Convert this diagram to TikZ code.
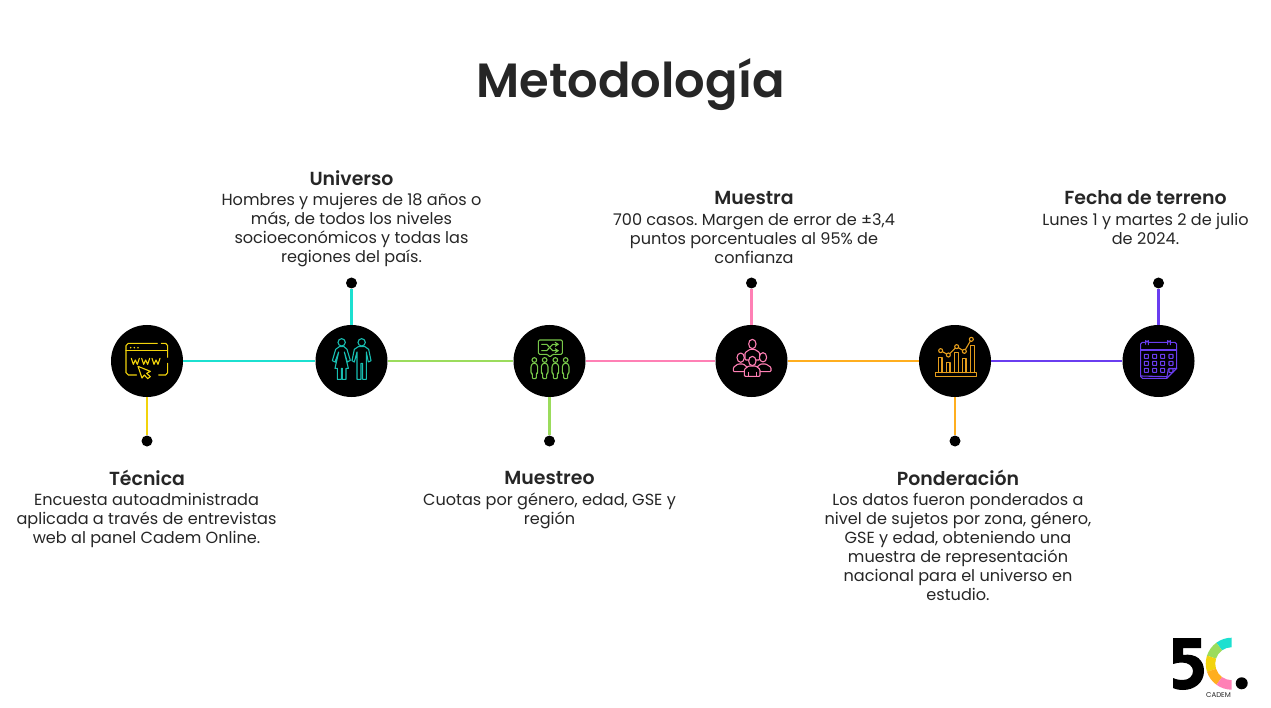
\documentclass[tikz,border=0pt]{standalone}
\usepackage{fontspec}
\setmainfont{Poppins}
\newfontfamily\headfont{Poppins SemiBold}
\usetikzlibrary{arrows.meta}
\definecolor{ink}{HTML}{262626}
\definecolor{cyel}{HTML}{F2D30C}
\definecolor{ctur}{HTML}{1CE0D0}
\definecolor{cgrn}{HTML}{9BDC5C}
\definecolor{cicg}{HTML}{78C84A}
\definecolor{cpnk}{HTML}{FF80B5}
\definecolor{corg}{HTML}{FFAE1F}
\definecolor{cpur}{HTML}{6A3DF0}
\tikzset{
  hub/.style={circle,fill=black,minimum size=72pt,inner sep=0pt},
  tip/.style={circle,fill=black,minimum size=11pt,inner sep=0pt},
  link/.style={line width=2.3pt},
  headtext/.style={font=\headfont\fontsize{18.9}{21}\selectfont,text=ink,inner sep=0pt,anchor=center},
  bodytext/.style={font=\fontsize{16.1}{19}\selectfont\frenchspacing,text=ink,inner sep=0pt,align=center,anchor=north},
  iconline/.style={line width=1.1pt,line join=round,line cap=round},
}
\begin{document}
\begin{tikzpicture}[x=1pt,y=-1pt]
\useasboundingbox (0,0) rectangle (1271,708);
\fill[white] (0,0) rectangle (1271,708);
\node[font=\headfont\fontsize{48}{58}\selectfont,text=ink,inner sep=0pt] (title) at (630.5,85) {Metodología};
% hubs and tips
\coordinate (h1) at (147,361);\coordinate (h2) at (351.5,361);\coordinate (h3) at (549.5,361);
\coordinate (h4) at (751.5,361);\coordinate (h5) at (955,361);\coordinate (h6) at (1158.5,361);
\node[tip] (d1) at (147,441) {};
\node[tip] (d2) at (351.5,283) {};
\node[tip] (d3) at (549.5,441) {};
\node[tip] (d4) at (751.5,283) {};
\node[tip] (d5) at (955,441) {};
\node[tip] (d6) at (1158.5,283) {};
\node[hub] (c1) at (h1) {};
\node[hub] (c2) at (h2) {};
\node[hub] (c3) at (h3) {};
\node[hub] (c4) at (h4) {};
\node[hub] (c5) at (h5) {};
\node[hub] (c6) at (h6) {};
\draw[link,cyel] (c1) -- (d1);
\draw[link,ctur] (c1) -- (c2);
\draw[link,ctur] (c2) -- (d2);
\draw[link,cgrn] (c2) -- (c3);
\draw[link,cgrn] (c3) -- (d3);
\draw[link,cpnk] (c3) -- (c4);
\draw[link,cpnk] (c4) -- (d4);
\draw[link,corg] (c4) -- (c5);
\draw[link,corg] (c5) -- (d5);
\draw[link,cpur] (c5) -- (c6);
\draw[link,cpur] (c6) -- (d6);
% icons 1 and 2
\begin{scope}[shift={(100,310)},scale=1/3,iconline]
 \begin{scope}[draw=cyel,cyel]
  \draw (110,195) -- (85,195) -- (78,188) -- (78,107) -- (85,100) -- (172,100);
  \draw (184,100) -- (197,100) -- (203,107) -- (203,142);
  \draw (203,160) -- (203,188) -- (197,195) -- (176,195);
  \draw (78,122) -- (203,122);
  \fill (92,113) circle (2.6) (103,113) circle (2.6) (114,113) circle (2.6);
  \draw (94,145) -- (100,163) -- (106,150) -- (112,163) -- (118,145);
  \draw (125,145) -- (131,163) -- (137,150) -- (143,163) -- (149,145);
  \draw (156,145) -- (162,163) -- (168,150) -- (174,163) -- (180,145) ;
  \draw (114,169) -- (151,184) -- (140,190) -- (151,200) -- (143,206) -- (133,195) -- (126,204) -- cycle;
 \end{scope}
 \begin{scope}[draw=ctur!85!black]
  \draw (725,97) circle (11) (785,97) circle (11);
  \draw (718,110) -- (707,118) -- (697,152) -- (705,156) -- (716,126) -- (705,175) -- (712,175) -- (712,208) -- (724,208) -- (724,175) -- (727,175) -- (727,208) -- (738,208) -- (738,175) -- (745,175) -- (733,126) -- (742,156) -- (751,151) -- (741,118) -- (732,110) -- cycle;
  \draw (775,110) -- (763,118) -- (756,152) -- (763,156) -- (771,126) -- (771,208) -- (783,208) -- (783,160) -- (788,160) -- (788,208) -- (799,208) -- (799,126) -- (805,156) -- (813,152) -- (806,118) -- (795,110) -- cycle;
 \end{scope}
\end{scope}
% icons 3 and 4
\begin{scope}[shift={(500,310)},scale=1/3,iconline]
 \begin{scope}[draw=cicg]
  \draw[rounded corners=1.3pt] (115,90) -- (187,90) -- (187,133) -- (157,133) -- (150,142) -- (143,133) -- (115,133) -- cycle;
  \draw[-{Straight Barb[length=3pt,width=4pt]}] (125,103) -- (140,103) -- (158,122) -- (177,122);
  \draw[-{Straight Barb[length=3pt,width=4pt]}] (125,122) -- (140,122) -- (158,103) -- (177,103);
  \foreach \px in {103,134,166,197}{
   \draw (\px,150) circle (7);
   \draw[rounded corners=1pt] (\px-5,160) -- (\px-10,168) -- (\px-10,190) -- (\px-6,190) -- (\px-6,206) -- (\px+6,206) -- (\px+6,190) -- (\px+10,190) -- (\px+10,168) -- (\px+5,160) -- cycle;
  }
 \end{scope}
 \begin{scope}[draw=cpnk,fill=black]
  \filldraw (757,102) ellipse (11 and 14);
  \filldraw[rounded corners=1pt] (735,150) -- (735,128) -- (750,118) -- (764,118) -- (779,128) -- (779,150) -- cycle;
  \filldraw (722,143) ellipse (11 and 14);
  \filldraw (789,142) ellipse (11 and 14);
  \filldraw[rounded corners=1pt] (700,185) -- (700,172) -- (714,162) -- (730,162) -- (742,172) -- (742,185) -- cycle;
  \filldraw[rounded corners=1pt] (813,185) -- (813,172) -- (798,162) -- (782,162) -- (770,172) -- (770,185) -- cycle;
  \filldraw[rounded corners=1pt] (733,199) -- (733,178) -- (746,168) -- (768,168) -- (780,178) -- (780,199) -- cycle;
  \filldraw (757,153) ellipse (11 and 14);
  \draw (745,187) -- (745,199) (769,187) -- (769,199);
 \end{scope}
\end{scope}
% icons 5 and 6
\begin{scope}[shift={(910,310)},scale=1/3,iconline]
 \begin{scope}[draw=corg!90!black]
  \draw (77,188) rectangle (200,200);
  \draw (85,188) -- (85,142) -- (96,142) -- (96,188);
  \draw (109,188) -- (109,158) -- (120,158) -- (120,188);
  \draw (133,188) -- (133,127) -- (145,127) -- (145,188);
  \draw (157,188) -- (157,146) -- (168,146) -- (168,188);
  \draw (181,188) -- (181,106) -- (193,106) -- (193,188);
  \draw (92,122) -- (115,135) -- (140,110) -- (163,124) -- (184,88);
  \foreach \qx/\qy in {92/122,115/135,140/110,163/124,184/88}{\filldraw[fill=black] (\qx,\qy) circle (6);}
 \end{scope}
 \begin{scope}[draw=cpur]
  \draw[rounded corners=1.7pt] (770,205) -- (692,205) -- (692,97) -- (800,97) -- (800,175);
  \draw (692,120) -- (800,120);
  \draw (800,175) -- (770,205);
  \draw (775,177) -- (800,175) (775,177) -- (770,205);
  \draw (692,198) -- (770,200);
  \draw[fill=black] (707,103) -- (707,92) arc (180:0:4) -- (715,104);
  \draw[fill=black] (773,103) -- (773,92) arc (180:0:4) -- (781,104);
  \foreach \gx in {703,728,752,777}{
   \foreach \gy in {133,154,175}{
    \draw[rounded corners=0.4pt] (\gx,\gy) rectangle +(12,12);
   }
  }
 \end{scope}
\end{scope}
% texts
\node[headtext] (t1) at (147,478) {Técnica};
\node[bodytext] (b1) at (146.5,493) {Encuesta autoadministrada\\aplicada a través de entrevistas\\web al panel Cadem Online.};
\node[headtext] (t2) at (351.5,178) {Universo};
\node[bodytext] (b2) at (351.5,193) {Hombres y mujeres de 18 años o\\más, de todos los niveles\\socioeconómicos y todas las\\regiones del país.};
\node[headtext] (t3) at (549.5,478) {Muestreo};
\node[bodytext] (b3) at (549.5,493) {Cuotas por género, edad, GSE y\\región};
\node[headtext] (t4) at (754,198) {Muestra};
\node[bodytext] (b4) at (754,213) {700 casos. Margen de error de ±3,4\\puntos porcentuales al 95\% de\\confianza};
\node[headtext] (t5) at (958,478) {Ponderación};
\node[bodytext] (b5) at (958,493) {Los datos fueron ponderados a\\nivel de sujetos por zona, género,\\GSE y edad, obteniendo una\\muestra de representación\\nacional para el universo en\\estudio.};
\node[headtext] (t6) at (1145.5,198) {Fecha de terreno};
\node[bodytext] (b6) at (1145.5,213) {Lunes 1 y martes 2 de julio\\de 2024.};
% logo
\fill[black] (1173,638) -- (1201,638) -- (1201,648) -- (1183,648) -- (1183,655)
 .. controls (1196,653) and (1204,660) .. (1204,671)
 .. controls (1204,683) and (1194,690) .. (1183,690)
 .. controls (1180,690) and (1176,689.5) .. (1173,688)
 -- (1173,678) .. controls (1176,679.5) and (1180,680) .. (1183,680)
 .. controls (1189,680) and (1193,676) .. (1193,671)
 .. controls (1193,666) and (1188,662.5) .. (1182,662.5)
 .. controls (1179,662.5) and (1176,663) .. (1173,664) -- cycle;
\begin{scope}[shift={(1231.7,663.7)},x=1pt,y=1pt]
\foreach \col/\ang in {ctur/54,cgrn/90,cyel/126,corg/162,cpnk/198}{
 \pgfmathsetmacro{\angb}{\ang+36}
 \fill[\col] (\ang+36:26) arc[start angle=\angb,end angle=\ang+72,radius=26] -- (\ang+72:16.5) arc[start angle=\ang+72,end angle=\angb,radius=16.5] -- cycle;
}
\end{scope}
\fill[black] (1241.7,683.3) circle (6);
\node[font=\fontsize{7}{8}\selectfont,text=ink,inner sep=0pt] (logo) at (1218.5,695) {CADEM};
\end{tikzpicture}
\end{document}
